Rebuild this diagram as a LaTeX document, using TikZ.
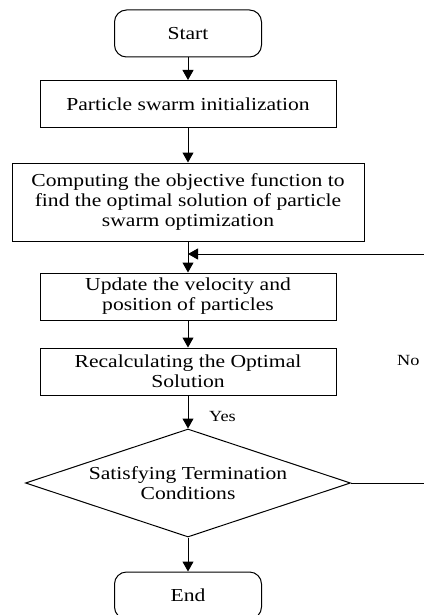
\documentclass[tikz,border=0pt]{standalone}
\usepackage{fontspec}
\setmainfont[FakeStretch=1.18]{Liberation Serif}
\usetikzlibrary{shapes.geometric,arrows.meta}

\begin{document}
\begin{tikzpicture}[x=1pt,y=-1pt,
    box/.style={draw,line width=1pt,minimum width=296pt,minimum height=47pt,inner sep=0pt,align=center,font=\fontsize{18.3}{20}\selectfont},
    term/.style={box,rounded corners=12pt,minimum width=147pt},
    cond/.style={draw,diamond,aspect=3,line width=1pt,minimum width=325pt,minimum height=108pt,inner sep=0pt,align=center,font=\fontsize{18.3}{20}\selectfont},
    arr/.style={line width=1pt,-{Triangle[length=10pt,width=11pt]}},
    lbl/.style={inner sep=0pt,font=\fontsize{15.5}{18}\selectfont}]

    \useasboundingbox (0,0) rectangle (423,615);

    % Main column of steps
    \node[term] (start) at (188,33.5) {Start};
    \node[box] (init) at (188,104) {Particle swarm initialization};
    \node[box,minimum width=352pt,minimum height=78pt] (obj) at (188,202) {Computing the objective function to\\find the optimal solution of particle\\swarm optimization};
    \node[box] (upd) at (188,296.5) {Update the velocity and\\position of particles};
    \node[box] (recalc) at (188,371.5) {Recalculating the Optimal\\Solution};
    \node[cond] (check) at (188,483) {Satisfying Termination\\Conditions};
    \node[term] (stop) at (188,595.5) {End};

    % Connectors
    \draw[arr] (start) -- (init);
    \draw[arr] (init) -- (obj);
    \draw[arr] (obj) -- (upd);
    \draw[arr] (upd) -- (recalc);
    \draw[arr] (recalc) -- (check);
    \draw[arr] (check) -- (stop);

    % Loop back when the condition fails
    \coordinate (join) at (188,254);
    \coordinate (back) at (440,483);
    \draw[arr] (check.east) -- (back) |- (join);

    \node[lbl] (yes) at (222.5,416) {Yes};
    \node[lbl,anchor=west] (no) at (397,360) {No};
\end{tikzpicture}
\end{document}
